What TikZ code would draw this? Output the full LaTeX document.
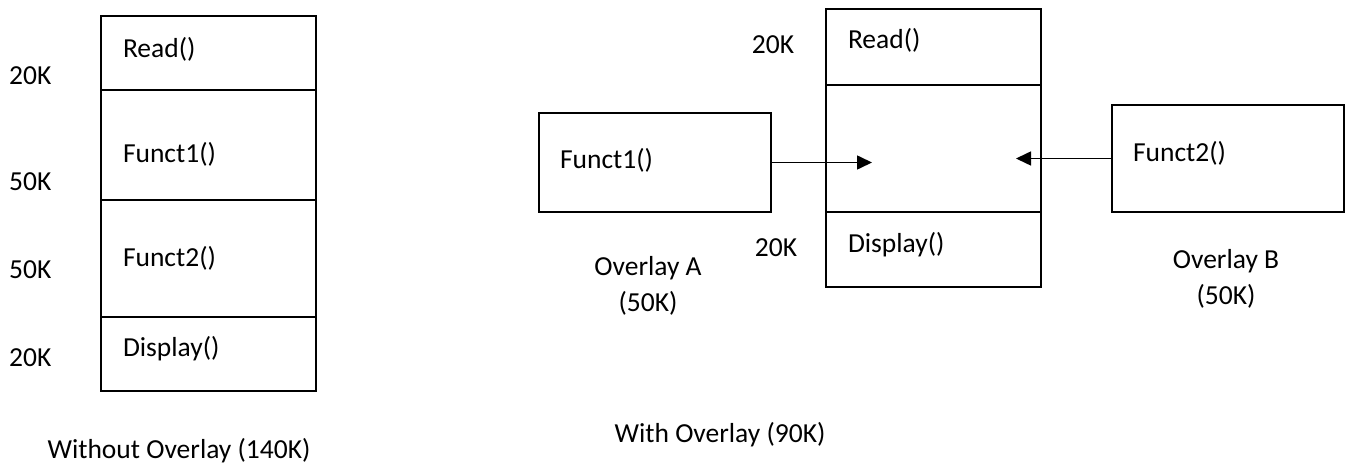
\documentclass[tikz,border=0pt]{standalone}
\usepackage{fontspec}
\setmainfont{Carlito}
\usetikzlibrary{positioning,arrows.meta}
\newcommand{\picwidth}{1348pt}
\newcommand{\picheight}{464pt}
\newcommand{\nudge}[2]{\raisebox{#1}[\height][\depth]{#2}}

\tikzset{
  seg/.style={draw, line width=1.8pt, outer sep=0pt, minimum width=215pt,
    text width=171pt, inner xsep=22pt, inner ysep=0pt, align=left},
  ovbox/.style={draw, line width=1.8pt, outer sep=0pt, minimum width=232pt,
    text width=190pt, inner xsep=21pt, inner ysep=0pt, align=left},
  sizelbl/.style={inner sep=0pt},
  arr/.style={-{Triangle[length=15pt,width=14pt]}, line width=1.6pt}
}

\begin{document}
\begin{tikzpicture}[font=\fontsize{27.5}{36}\selectfont]
  \useasboundingbox (0,0) rectangle (\picwidth, \picheight);

  % === WITHOUT OVERLAY ===
  \node[seg, minimum height=74pt, anchor=north west] (rdA) at (101pt, 448pt) {\nudge{4pt}{Read()}};
  \node[seg, minimum height=110pt, below=0pt of rdA] (fnA) {\nudge{-9pt}{Funct1()}};
  \node[seg, minimum height=117pt, below=0pt of fnA] (fnB) {Funct2()};
  \node[seg, minimum height=74pt, below=0pt of fnB] (dpA) {\nudge{5pt}{Display()}};

  \node[sizelbl, anchor=west] (szA) at (9pt, 388pt) {20K};
  \node[sizelbl, anchor=west] (szB) at (9pt, 282pt) {50K};
  \node[sizelbl, anchor=west] (szC) at (9pt, 194pt) {50K};
  \node[sizelbl, anchor=west] (szD) at (9pt, 106pt) {20K};

  \node[sizelbl] (capA) at (179pt, 13pt) {Without Overlay (140K)};

  % === WITH OVERLAY ===
  \node[seg, minimum height=76pt, anchor=north west] (rdB) at (826pt, 455pt) {\nudge{7pt}{Read()}};
  \node[seg, minimum height=127pt, below=0pt of rdB] (ovl) {};
  \node[seg, minimum height=75pt, below=0pt of ovl] (dpB) {\nudge{5pt}{Display()}};

  \node[sizelbl] (szE) at (773pt, 419pt) {20K};
  \node[sizelbl] (szF) at (776pt, 216pt) {20K};

  % Overlay A
  \node[ovbox, minimum height=99pt, anchor=north west] (fnC) at (539pt, 351pt) {\nudge{2pt}{Funct1()}};
  \node[align=center] (ovA) at (648pt, 178pt) {Overlay A\\(50K)};
  \coordinate (inA) at ([xshift=101pt]fnC.east);
  \draw[arr] (fnC.east) -- (inA);

  % Overlay B
  \node[ovbox, minimum height=107pt, anchor=north west] (fnD) at (1112pt, 359pt) {\nudge{5pt}{Funct2()}};
  \node[align=center] (ovB) at (1226pt, 185pt) {Overlay B\\(50K)};
  \coordinate (inB) at ([xshift=-96pt]fnD.west);
  \draw[arr] (fnD.west) -- (inB);

  \node (capB) at (720pt, 29pt) {With Overlay (90K)};
\end{tikzpicture}
\end{document}
